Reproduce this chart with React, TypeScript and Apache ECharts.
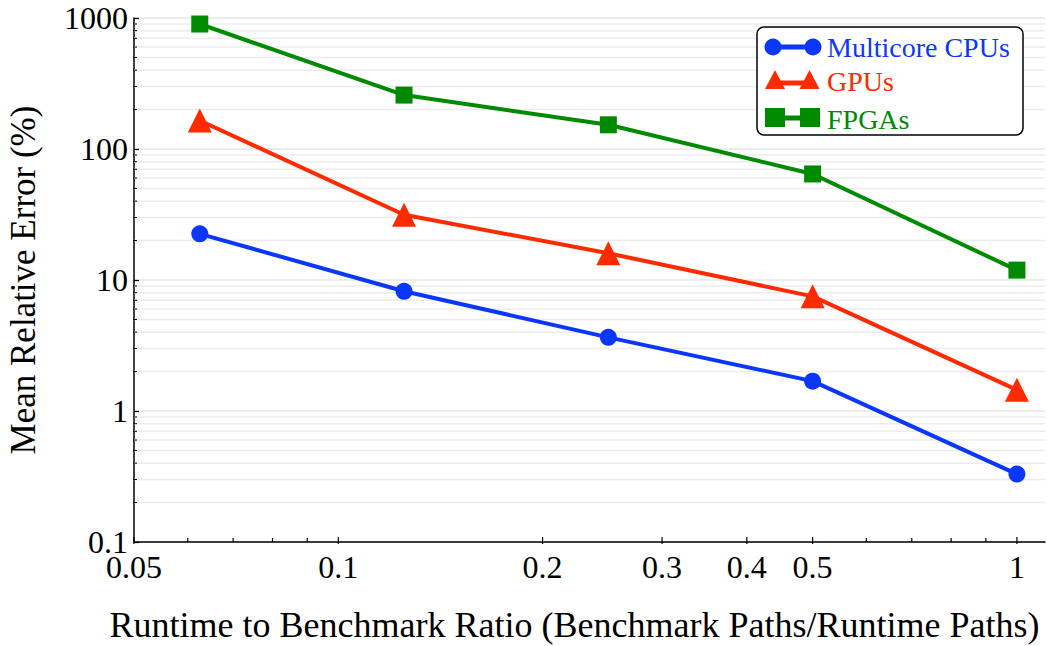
import React, { useEffect, useRef } from "react";
import * as echarts from "echarts";

const xValues = [0.0625, 0.125, 0.25, 0.5, 1];
const cpuValues = [22.5, 8.2, 3.65, 1.69, 0.33];
const gpuValues = [165, 31.5, 16, 7.5, 1.45];
const fpgaValues = [900, 258, 153, 64.5, 11.9];

const seriesNames = ["Multicore CPUs", "GPUs", "FPGAs"];
const seriesColors = ["#0a37fb", "#ff2a00", "#008a00"];

const xTickValues = [0.05, 0.06, 0.07, 0.08, 0.09, 0.1, 0.2, 0.3, 0.4, 0.5, 0.6, 0.7, 0.8, 0.9, 1];
const xTickLabels = ["0.05", "", "", "", "", "0.1", "0.2", "0.3", "0.4", "0.5", "", "", "", "", "1"];
const yMinorValues = [
  0.2, 0.3, 0.4, 0.5, 0.6, 0.7, 0.8, 0.9,
  2, 3, 4, 5, 6, 7, 8, 9,
  20, 30, 40, 50, 60, 70, 80, 90,
  200, 300, 400, 500, 600, 700, 800, 900,
];

const X_MIN = 0.05;
const X_MAX = 1.1;
const Y_MIN = 0.1;
const Y_MAX = 1000;
const FONT = "Liberation Serif";

export default function App() {
  const ref = useRef<HTMLDivElement>(null);
  useEffect(() => {
    if (!ref.current) return;
    const chart = echarts.init(ref.current, null, { renderer: "svg" });
    const pair = (ys: number[]) => xValues.map((x, i) => [x, ys[i]]);
    const symbols = ["circle", "triangle", "rect"];
    const sizes = [17, 24, 17];
    const allValues = [cpuValues, gpuValues, fpgaValues];

    const legendChildren: any[] = [
      {
        type: "rect",
        shape: { x: 757, y: 27, width: 266, height: 108, r: 7 },
        style: { fill: "#fff", stroke: "#000", lineWidth: 1.5 },
      },
      // CPU
      { type: "line", shape: { x1: 773, y1: 47, x2: 813, y2: 47 }, style: { stroke: seriesColors[0], lineWidth: 5 } },
      { type: "circle", shape: { cx: 773, cy: 47, r: 8.5 }, style: { fill: seriesColors[0] } },
      { type: "circle", shape: { cx: 813, cy: 47, r: 8.5 }, style: { fill: seriesColors[0] } },
      // GPU
      { type: "line", shape: { x1: 775, y1: 83, x2: 809, y2: 83 }, style: { stroke: seriesColors[1], lineWidth: 5 } },
      { type: "polygon", shape: { points: [[775, 70], [765, 89], [785, 89]] }, style: { fill: seriesColors[1] } },
      { type: "polygon", shape: { points: [[809.5, 70], [799.5, 89], [819.5, 89]] }, style: { fill: seriesColors[1] } },
      // FPGA
      { type: "line", shape: { x1: 775, y1: 118, x2: 809, y2: 118 }, style: { stroke: seriesColors[2], lineWidth: 5 } },
      { type: "rect", shape: { x: 765, y: 108, width: 20, height: 19 }, style: { fill: seriesColors[2] } },
      { type: "rect", shape: { x: 800, y: 108, width: 20, height: 19 }, style: { fill: seriesColors[2] } },
    ];
    const legendYs = [47, 81, 119];
    seriesNames.forEach((n, i) => {
      legendChildren.push({
        type: "text",
        x: 827,
        y: legendYs[i],
        style: { text: n, fill: seriesColors[i], fontSize: 28, fontFamily: FONT, align: "left", verticalAlign: "middle" },
      });
    });
    legendChildren.forEach((c, i) => {
      c.z = 100;
      c.z2 = i;
    });

    chart.setOption({
      animation: false,
      backgroundColor: "#fff",
      grid: { left: 134, top: 18, right: 2, bottom: 104, containLabel: false, outerBoundsMode: "none" },
      xAxis: {
        type: "log",
        logBase: 10,
        min: X_MIN,
        max: X_MAX,
        name: "Runtime to Benchmark Ratio (Benchmark Paths/Runtime Paths)",
        nameLocation: "middle",
        nameGap: 65,
        nameTextStyle: { fontSize: 36, fontFamily: FONT, color: "#000", padding: [0, 30, 0, 0] },
        axisLine: { show: true, onZero: false, lineStyle: { color: "#000", width: 1.5 } },
        axisTick: { show: false },
        axisLabel: { show: false },
        splitLine: { show: false },
      },
      yAxis: {
        type: "log",
        logBase: 10,
        min: Y_MIN,
        max: Y_MAX,
        name: "Mean Relative Error (%)",
        nameLocation: "middle",
        nameGap: 93,
        nameTextStyle: { fontSize: 35, fontFamily: FONT, color: "#000" },
        axisLine: { show: true, lineStyle: { color: "#000", width: 1.5 } },
        axisTick: { show: true, inside: true, length: 5, lineStyle: { color: "#000", width: 1.2 } },
        axisLabel: {
          fontSize: 32,
          fontFamily: FONT,
          color: "#000",
          margin: 6,
          lineHeight: 24,
          formatter: (v: number) => String(v),
        },
        splitLine: { show: true, lineStyle: { color: "#e6e6e6", width: 1.5 } },
      },
      graphic: legendChildren,
      series: [
        {
          type: "custom",
          name: "yMinor",
          z: 1,
          silent: true,
          data: yMinorValues.map((v) => [X_MIN, v]),
          renderItem: (params: any, api: any) => {
            const p = api.coord([X_MIN, api.value(1)]);
            const cs = params.coordSys;
            return {
              type: "group",
              children: [
                { type: "line", shape: { x1: cs.x, y1: p[1], x2: cs.x + cs.width, y2: p[1] }, style: { stroke: "#ececec", lineWidth: 1.5 } },
                { type: "line", shape: { x1: cs.x - 1, y1: p[1], x2: cs.x + 3, y2: p[1] }, style: { stroke: "#000", lineWidth: 1 } },
              ],
            };
          },
        },
        {
          type: "custom",
          name: "xTicks",
          z: 2,
          silent: true,
          data: xTickValues.map((v) => [v, Y_MIN]),
          renderItem: (params: any, api: any) => {
            const p = api.coord([api.value(0), Y_MIN]);
            const label = xTickLabels[params.dataIndex];
            const major = label !== "";
            const children: any[] = [
              { type: "line", shape: { x1: p[0], y1: p[1] + (major ? 2 : 0), x2: p[0], y2: p[1] - (major ? 5 : 4) }, style: { stroke: "#000", lineWidth: 1.2 } },
            ];
            if (major) {
              children.push({
                type: "text",
                x: p[0],
                y: p[1] + 13,
                style: { text: label, fill: "#000", fontSize: 32, lineHeight: 24, fontFamily: FONT, align: "center", verticalAlign: "top" },
              });
            }
            return { type: "group", children };
          },
        },
        ...seriesNames.map((name, i) => ({
          type: "line",
          name,
          z: 5,
          data: pair(allValues[i]),
          symbol: symbols[i],
          symbolSize: sizes[i],
          showSymbol: true,
          lineStyle: { color: seriesColors[i], width: 4 },
          itemStyle: { color: seriesColors[i] },
        })),
      ],
    });
    return () => chart.dispose();
  }, []);
  return <div ref={ref} style={{ position: "fixed", left: 0, top: 0, width: 1047, height: 646 }} />;
}
